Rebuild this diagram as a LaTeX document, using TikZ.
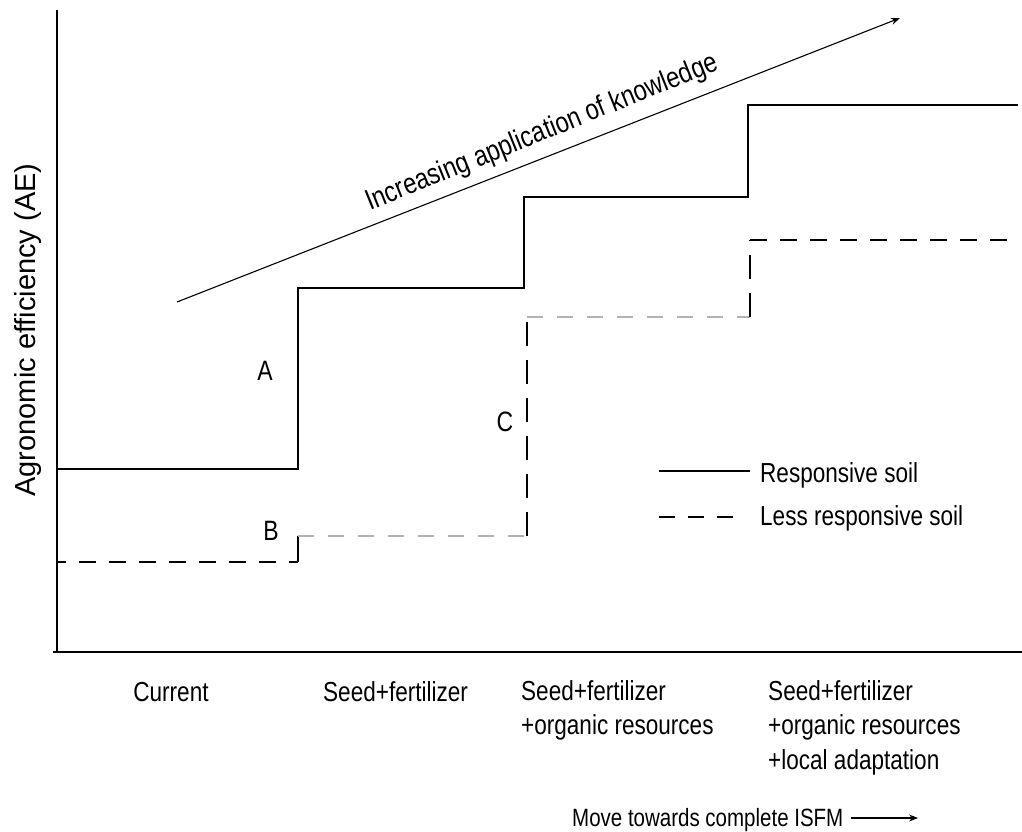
\documentclass[tikz,border=0pt]{standalone}
\usepackage{fontspec}
\setmainfont{Liberation Sans}
\newfontfamily\nar{Liberation Sans}[FakeStretch=0.82]
\usetikzlibrary{arrows.meta}
\begin{document}
\begin{tikzpicture}[x=1pt,y=-1pt,
  txt/.style={inner sep=0pt,font=\nar\fontsize{27.5}{34.5}\selectfont},
  lbl/.style={inner sep=0pt,font=\nar\fontsize{28}{34}\selectfont,anchor=base},
  solidline/.style={line width=1.6pt},
  dashline/.style={line width=1.6pt,dash pattern=on 17pt off 13pt},
  greydash/.style={line width=2pt,gray!60,dash pattern=on 16pt off 14pt},
  axis/.style={line width=2pt},
  thinarrow/.style={line width=1.1pt,-{Stealth[length=9pt,width=7pt]}}]
\useasboundingbox (0,0) rectangle (1022,832);
% axes
\coordinate (ytop) at (57,10);
\coordinate (origin) at (57,652);
\coordinate (xleft) at (53,652);
\coordinate (xright) at (1022,652);
\draw[axis] (ytop) -- (origin);
\draw[axis] (xleft) -- (xright);
% responsive soil
\coordinate (r0) at (57,469);
\coordinate (r1) at (298,469);
\coordinate (r2) at (298,288);
\coordinate (r3) at (524,288);
\coordinate (r4) at (524,197);
\coordinate (r5) at (748,197);
\coordinate (r6) at (748,105);
\coordinate (r7) at (1018,105);
\draw[solidline] (r0) -- (r1) -- (r2) -- (r3) -- (r4) -- (r5) -- (r6) -- (r7);
% less responsive soil
\coordinate (l0) at (57,562);
\coordinate (l1) at (298,562);
\coordinate (l2) at (298,536);
\coordinate (l3) at (527,536);
\coordinate (l4) at (527,317);
\coordinate (l5) at (750,317);
\coordinate (l6) at (750,240);
\coordinate (l7) at (1015,240);
\draw[dashline,dash phase=8pt] (l0) -- (l1);
\draw[line width=1.6pt] (l1) -- (l2);
\draw[greydash] (l2) -- (l3);
\draw[line width=1.6pt,dash pattern=on 24pt off 14pt] (l3) -- (l4);
\draw[greydash] (l4) -- (l5);
\draw[line width=1.6pt,dash pattern=on 24pt off 14pt] (l5) -- (l6);
\draw[dashline] (l6) -- (l7);
% knowledge arrow
\coordinate (k0) at (177,302);
\coordinate (k1) at (900,18);
\draw[thinarrow] (k0) -- (k1);
\node[lbl,rotate=22,font=\nar\fontsize{29}{34}\selectfont] (know) at (545,140) {Increasing application of knowledge};
% labels
\node[lbl] (A) at (265,380) {A};
\node[lbl] (B) at (271,540) {B};
\node[lbl] (C) at (505,431) {C};
% legend
\coordinate (s0) at (659,471);
\coordinate (s1) at (750,471);
\draw[line width=1.4pt] (s0) -- (s1);
\node[txt,anchor=base west] (resp) at (760,482) {Responsive soil};
\coordinate (d0) at (659,517);
\coordinate (d1) at (746,517);
\draw[line width=1.4pt,dash pattern=on 16pt off 13pt] (d0) -- (d1);
\node[txt,anchor=base west] (less) at (760,525) {Less responsive soil};
% y label
\node[inner sep=0pt,rotate=90,font=\fontsize{29}{32}\selectfont] (ylab) at (28,330) {Agronomic efficiency (AE)};
% x labels
\node[txt,anchor=base] (x1) at (171,701) {Current};
\node[txt,anchor=base west] (x2) at (323,701) {Seed+fertilizer};
\node[txt,anchor=north west,align=left] (x3) at (521,680) {Seed+fertilizer\\+organic resources};
\node[txt,anchor=north west,align=left] (x4) at (768,680) {Seed+fertilizer\\+organic resources\\+local adaptation};
% bottom
\node[txt,anchor=base west,font=\nar\fontsize{25}{30}\selectfont] (move) at (572,826) {Move towards complete ISFM};
\coordinate (m0) at (851,818);
\coordinate (m1) at (918,818);
\draw[thinarrow] (m0) -- (m1);
\end{tikzpicture}
\end{document}
